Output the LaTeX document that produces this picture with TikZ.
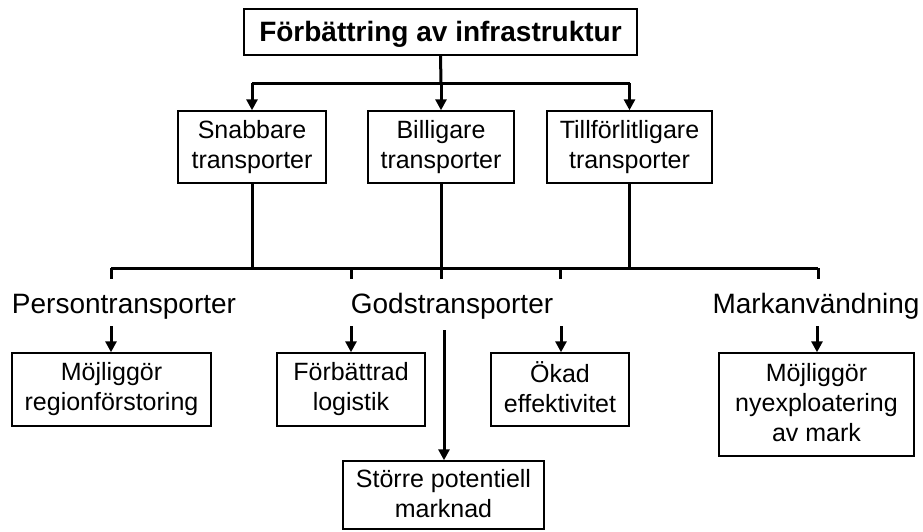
\documentclass[tikz,border=0pt]{standalone}
\usepackage{fontspec}
\setmainfont{Liberation Sans}
\usetikzlibrary{arrows.meta}
% invisible struts that fix where the text lines sit in a box
\newcommand\topstr{\rule{0pt}{25pt}}
\newcommand\botstr{\rule[-4pt]{0pt}{4pt}}
\begin{document}
\begin{tikzpicture}[x=1pt,y=-1pt,
  box/.style={draw,line width=1.4pt,align=center,inner sep=0pt,
    font=\fontsize{25}{30}\selectfont,
    execute at begin node=\topstr, execute at end node=\botstr},
  lbl/.style={anchor=base,inner sep=0pt,font=\fontsize{28}{32}\selectfont},
  link/.style={line width=3pt},
  arr/.style={line width=3pt,-{Triangle[width=11pt,length=11pt]}}]
\useasboundingbox (0,0) rectangle (923,531);
\fill[white] (0,0) rectangle (923,531);

% top level
\node[box,minimum width=393pt,minimum height=46pt,
  font=\bfseries\fontsize{28}{32}\selectfont] (top) at (440.5,32) {Förbättring av infrastruktur};

% second level
\node[box,minimum width=148pt,minimum height=72pt] (sn) at (252,147) {Snabbare\\transporter};
\node[box,minimum width=146pt,minimum height=72pt] (bi) at (441,147) {Billigare\\transporter};
\node[box,minimum width=165pt,minimum height=72pt] (ti) at (629.5,147) {Tillförlitligare\\transporter};

\coordinate (j1) at (441,83);
\draw[link] (top.south) -- (j1);
\draw[link] (sn.north |- j1) -- (ti.north |- j1);
\draw[arr] (sn.north |- j1) -- (sn.north);
\draw[arr] (j1) -- (bi.north);
\draw[arr] (ti.north |- j1) -- (ti.north);

% category labels
\node[lbl] (pt) at (124,313) {Persontransporter};
\node[lbl] (gt) at (452,313) {Godstransporter};
\node[lbl] (mk) at (816,313) {Markanvändning};

% collecting bar with ticks
\coordinate (bl) at (111,268);
\coordinate (br) at (818,268);
\draw[link] (bl) -- (br);
\draw[link] (sn.south) -- (sn.south |- bl);
\draw[link] (bi.south) -- (bi.south |- bl);
\draw[link] (ti.south) -- (ti.south |- bl);
\foreach \x/\n in {111/ta,351/tb,441/tc,560/td,818/te}{
  \coordinate (\n) at (\x,279);
  \draw[link] (\x,268) -- (\n);
}

% third level
\node[box,minimum width=199pt,minimum height=73pt] (mr) at (111.5,389.5) {Möjliggör\\regionförstoring};
\node[box,minimum width=148pt,minimum height=73pt] (fl) at (351,389.5) {Förbättrad\\logistik};
\node[box,minimum width=138pt,minimum height=73pt] (oe) at (560,389.5) {Ökad\\effektivitet};
\node[box,minimum width=195pt,minimum height=103pt] (ny) at (816.5,404.5) {Möjliggör\\nyexploatering\\av mark};
\node[box,minimum width=201pt,minimum height=68pt] (sp) at (443.5,495) {Större potentiell\\marknad};

\coordinate (a1) at (111,326);
\coordinate (a2) at (351,326);
\coordinate (a3) at (561,326);
\coordinate (a4) at (817,326);
\coordinate (a5) at (444,330);
\draw[arr] (a1) -- (a1 |- mr.north);
\draw[arr] (a2) -- (a2 |- fl.north);
\draw[arr] (a3) -- (a3 |- oe.north);
\draw[arr] (a4) -- (a4 |- ny.north);
\draw[arr] (a5) -- (a5 |- sp.north);
\end{tikzpicture}
\end{document}
